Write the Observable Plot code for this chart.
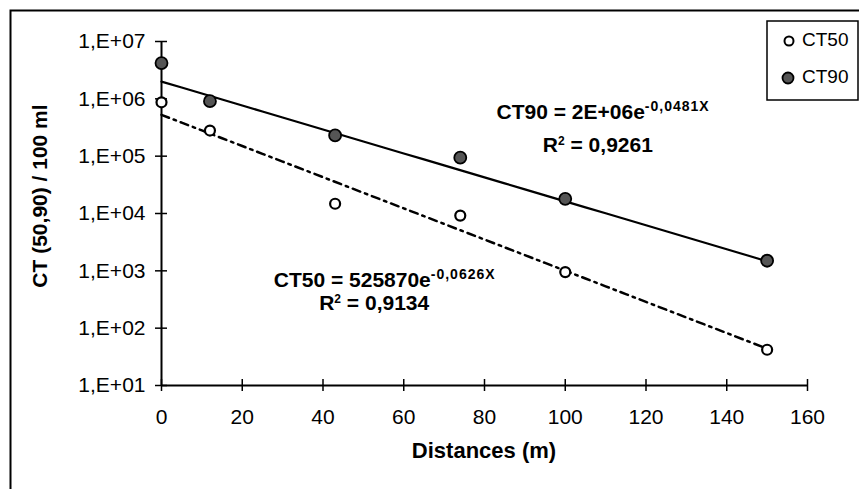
<!DOCTYPE html>
<html>
<head>
<meta charset="utf-8">
<script src="https://cdn.jsdelivr.net/npm/d3@7"></script>
<script src="https://cdn.jsdelivr.net/npm/@observablehq/plot@0.6"></script>
<style>
  html, body { margin: 0; padding: 0; background: #fff; }
  #chart svg { display: block; }
</style>
</head>
<body>
<div id="chart"></div>
<script>
// Distances from the outfall (m)
const distances = [0, 12, 43, 74, 100, 150];
// CT50 and CT90 counts per 100 ml at each distance
const ct50 = [8.7e5, 2.8e5, 1.48e4, 9.2e3, 950, 42];
const ct90 = [4.2e6, 9.1e5, 2.3e5, 9.4e4, 1.8e4, 1.5e3];

// Exponential trendlines: CT = a * exp(k * x)
const fit50 = {a: 525870, k: -0.0626, r2: "0,9134"};
const fit90 = {a: 2e6, k: -0.0481, r2: "0,9261"};

// Axis ticks and their labels
const xTicks = [0, 20, 40, 60, 80, 100, 120, 140, 160];
const yTicks = [1e1, 1e2, 1e3, 1e4, 1e5, 1e6, 1e7];
const yTickLabels = ["1,E+01", "1,E+02", "1,E+03", "1,E+04", "1,E+05", "1,E+06", "1,E+07"];

const xLabel = "Distances (m)";
const yLabel = "CT (50,90) / 100 ml";
const seriesNames = ["CT50", "CT90"];

const pts50 = distances.map((d, i) => ({x: d, y: ct50[i]}));
const pts90 = distances.map((d, i) => ({x: d, y: ct90[i]}));

// Trendline samples over the measured range
const xs = d3.range(0, 151, 5);
const line50 = xs.map(x => ({x, y: fit50.a * Math.exp(fit50.k * x)}));
const line90 = xs.map(x => ({x, y: fit90.a * Math.exp(fit90.k * x)}));

const FONT = "'Liberation Sans', Arial, sans-serif";
const CT90_FILL = "#555";

const chart = Plot.plot({
  width: 859,
  height: 489,
  marginLeft: 161,
  marginRight: 52,
  marginTop: 41,
  marginBottom: 104,
  style: {fontFamily: FONT, fontSize: "21px", color: "#000", background: "#fff", overflow: "visible"},
  x: {domain: [0, 160]},
  y: {type: "log", domain: [10, 1e7]},
  marks: [
    // tick labels
    Plot.axisY({ticks: yTicks, tickSize: 0, tickPadding: 16, label: null, fontSize: 21,
      tickFormat: d => yTickLabels[yTicks.indexOf(d)]}),
    Plot.axisX({ticks: xTicks, tickSize: 0, tickPadding: 24, label: null, fontSize: 21,
      tickFormat: d => String(d)}),
    // tick marks crossing the axis lines
    Plot.axisY({ticks: yTicks, tickSize: 12, dx: 6, label: null, tickFormat: () => "", strokeWidth: 1.5}),
    Plot.axisX({ticks: xTicks, tickSize: 12, dy: -6, label: null, tickFormat: () => "", strokeWidth: 1.5}),
    // axis lines
    Plot.ruleX([0], {y1: 10, y2: 1e7, stroke: "#000", strokeWidth: 2}),
    Plot.ruleY([10], {x1: 0, x2: 160, stroke: "#000", strokeWidth: 2}),
    // trendlines
    Plot.line(line90, {x: "x", y: "y", stroke: "#000", strokeWidth: 2.2}),
    Plot.line(line50, {x: "x", y: "y", stroke: "#000", strokeWidth: 2.5, strokeDasharray: "8,5,2.5,5"}),
    // observations
    Plot.dot(pts50, {x: "x", y: "y", r: 5, fill: "#fff", stroke: "#000", strokeWidth: 2.2}),
    Plot.dot(pts90, {x: "x", y: "y", r: 6, fill: CT90_FILL, stroke: "#000", strokeWidth: 1.8})
  ]
});

document.getElementById("chart").appendChild(chart);

const svg = d3.select(chart);
const sx = chart.scale("x"), sy = chart.scale("y");

// outer chart-area border (top and left edges)
svg.append("path")
  .attr("d", "M10.5,489 V10.5 H859")
  .attr("fill", "none").attr("stroke", "#000").attr("stroke-width", 2);

// axis titles
svg.append("text")
  .attr("x", sx.apply(80)).attr("y", 458)
  .attr("text-anchor", "middle")
  .attr("font-family", FONT).attr("font-size", 22).attr("font-weight", "bold")
  .text(xLabel);

const yMid = (sy.apply(1e7) + sy.apply(10)) / 2 - 17;
svg.append("text")
  .attr("transform", `translate(47,${yMid}) rotate(-90)`)
  .attr("text-anchor", "middle")
  .attr("font-family", FONT).attr("font-size", 21).attr("font-weight", "bold")
  .text(yLabel);

// trendline equations, placed in data coordinates
function fmtK(k) { return String(k).replace(".", ","); }
function equation(cx, cy, lhs, coef, k) {
  const t = svg.append("text")
    .attr("x", sx.apply(cx)).attr("y", sy.apply(cy))
    .attr("text-anchor", "middle")
    .attr("font-family", FONT).attr("font-size", 21).attr("font-weight", "bold");
  t.append("tspan").text(`${lhs} = ${coef}e`);
  t.append("tspan").attr("font-size", 14).attr("dy", -8).attr("letter-spacing", 1).text(fmtK(k) + "X");
}
function r2(cx, cy, val) {
  const t = svg.append("text")
    .attr("x", sx.apply(cx)).attr("y", sy.apply(cy))
    .attr("text-anchor", "middle")
    .attr("font-family", FONT).attr("font-size", 21).attr("font-weight", "bold");
  t.append("tspan").text("R");
  t.append("tspan").attr("font-size", 12).attr("dy", -7).text("2");
  t.append("tspan").attr("dy", 7).text(` = ${val}`);
}

equation(109.5, 4.35e5, "CT90", "2E+06", fit90.k);
r2(108.2, 1.16e5, fit90.r2);
equation(55.4, 520, "CT50", String(fit50.a), fit50.k);
r2(52.8, 200, fit50.r2);

// legend
const lg = svg.append("g").attr("font-family", FONT).attr("font-size", 19).attr("text-anchor", "start");
lg.append("rect").attr("x", 767).attr("y", 21).attr("width", 91).attr("height", 79)
  .attr("fill", "#fff").attr("stroke", "#000").attr("stroke-width", 1.5);
lg.append("circle").attr("cx", 789).attr("cy", 41).attr("r", 4.5)
  .attr("fill", "#fff").attr("stroke", "#000").attr("stroke-width", 2);
lg.append("text").attr("x", 802).attr("y", 46).text(seriesNames[0]);
lg.append("circle").attr("cx", 788).attr("cy", 78).attr("r", 5.5)
  .attr("fill", CT90_FILL).attr("stroke", "#000").attr("stroke-width", 1.8);
lg.append("text").attr("x", 802).attr("y", 83).text(seriesNames[1]);
</script>
</body>
</html>
